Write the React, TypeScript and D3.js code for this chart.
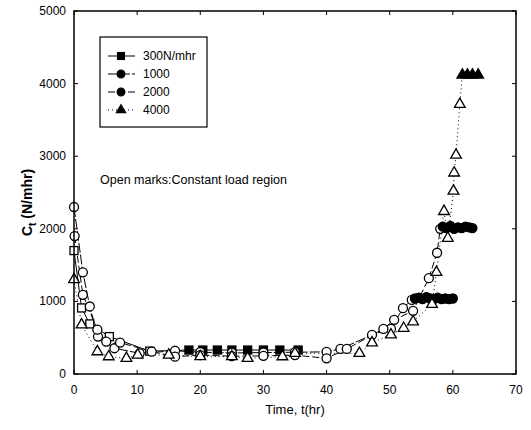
import React from 'react';
import * as d3 from 'd3';

// time (hr), Ct (N/mhr)
const s300Open = [[0, 1700], [1.2, 910], [2.5, 690], [5.6, 515], [12, 315]];
const s300Fill = [[18.2, 330], [20.4, 330], [22.7, 330], [25, 330], [27.5, 330], [30, 330], [32.6, 330], [35.5, 330]];

const s1000Open = [[0, 2300], [1.4, 1400], [2.5, 930], [3.8, 515], [6.4, 355], [10.4, 285], [16, 320], [20, 300], [25, 290], [30, 295], [35, 300], [40, 305], [42.2, 345], [47.2, 540], [50.2, 621], [52.1, 907], [53.5, 1020]];
const s1000Fill = [[54, 1040], [54.6, 1050], [55.2, 1030], [55.8, 1060], [56.4, 1040], [57, 1030], [57.6, 1050], [58.2, 1030], [58.8, 1040], [59.4, 1030], [60, 1040]];

const s2000Open = [[0.1, 1900], [1.4, 1090], [3.7, 610], [5.1, 446], [7.3, 433], [12.3, 308], [16, 239], [20, 260], [25, 245], [30, 250], [35, 260], [40, 216], [43.2, 345], [49, 621], [50.7, 746], [53.7, 870], [56.2, 1320], [57.5, 1670], [58, 2000]];
const s2000Fill = [[58.4, 2030], [59, 2010], [59.6, 2040], [60.2, 2000], [60.8, 2020], [61.4, 2010], [62, 2030], [62.6, 2020], [63.1, 2010]];

const s4000Open = [[0, 1300], [1.2, 677], [3.7, 308], [5.5, 239], [8.3, 216], [10.1, 262], [15, 262], [20, 240], [25, 240], [27.5, 216], [33, 239], [35, 285], [45.2, 285], [47.2, 430], [50.2, 540], [52.2, 631], [53.7, 720], [56.7, 960], [57.4, 1400], [58.6, 2240], [59.2, 1870], [60.1, 2520], [60.2, 2770], [60.5, 3015], [61.1, 3715]];
const s4000Fill = [[61.5, 4120], [62.3, 4120], [63.1, 4120], [64, 4120]];

const xTicks = [0, 10, 20, 30, 40, 50, 60, 70];
const yTicks = [0, 1000, 2000, 3000, 4000, 5000];
const legendLabels = ['300N/mhr', '1000', '2000', '4000'];

const W = 531, H = 430;
const m = { left: 74, right: 15, top: 11, bottom: 56 };

const x = d3.scaleLinear().domain([0, 70]).range([m.left, W - m.right]);
const y = d3.scaleLinear().domain([0, 5000]).range([H - m.bottom, m.top]);

function Marker({ shape, cx, cy, filled, s = 1 }: any) {
  const fill = filled ? '#000' : '#fff';
  if (shape === 'square') {
    const h = 4 * s;
    return <rect x={cx - h} y={cy - h} width={2 * h} height={2 * h} fill={fill} stroke="#000" strokeWidth={1.3} />;
  }
  if (shape === 'tri') {
    const sym = d3.symbol(d3.symbolTriangle, 50 * s * s)();
    return <path d={sym!} transform={`translate(${cx},${cy})`} fill={fill} stroke="#000" strokeWidth={1.3} />;
  }
  return <circle cx={cx} cy={cy} r={4.5 * s} fill={fill} stroke="#000" strokeWidth={1.3} />;
}

export default function App() {
  const line = d3.line<number[]>().x(d => x(d[0])).y(d => y(d[1]));
  const series = [
    { open: s300Open, fill: s300Fill, shape: 'square', dash: undefined },
    { open: s1000Open, fill: s1000Fill, shape: 'circle', dash: '10,2' },
    { open: s2000Open, fill: s2000Fill, shape: 'circle', dash: '7,3' },
    { open: s4000Open, fill: s4000Fill, shape: 'tri', dash: '1,3' },
  ];
  const font = 'Liberation Sans, Arial, sans-serif';
  const x0 = m.left, x1 = W - m.right, y0 = H - m.bottom, y1 = m.top;

  return (
    <svg width={W} height={H} style={{ position: 'absolute', left: 0, top: 0 }} fontFamily={font}>
      <rect width={W} height={H} fill="#fff" />
      {series.map((s, i) => (
        <path key={'l' + i} d={line([...s.open, ...s.fill])!} fill="none" stroke="#000" strokeWidth={1} strokeDasharray={s.dash} />
      ))}
      {series.map((s, i) => (
        <g key={'m' + i}>
          {s.open.map((d, j) => <Marker key={'o' + j} shape={s.shape} cx={x(d[0])} cy={y(d[1])} filled={false} />)}
          {s.fill.map((d, j) => <Marker key={'f' + j} shape={s.shape} cx={x(d[0])} cy={y(d[1])} filled />)}
        </g>
      ))}
      <rect x={x0} y={y1} width={x1 - x0} height={y0 - y1} fill="none" stroke="#000" strokeWidth={1.5} />
      {xTicks.map(t => (
        <g key={'x' + t}>
          <line x1={x(t)} x2={x(t)} y1={y0} y2={y0 - 4} stroke="#000" />
          <line x1={x(t)} x2={x(t)} y1={y1} y2={y1 + 4} stroke="#000" />
          <text x={x(t)} y={y0 + 20} textAnchor="middle" fontSize={12}>{t}</text>
        </g>
      ))}
      {yTicks.map(t => (
        <g key={'y' + t}>
          <line x1={x0} x2={x0 + 4} y1={y(t)} y2={y(t)} stroke="#000" />
          <line x1={x1} x2={x1 - 4} y1={y(t)} y2={y(t)} stroke="#000" />
          <text x={x0 - 8} y={y(t) + 4} textAnchor="end" fontSize={12}>{t}</text>
        </g>
      ))}
      <text x={(x0 + x1) / 2} y={414} textAnchor="middle" fontSize={13}>Time, t(hr)</text>
      <text transform={`translate(32,${(y0 + y1) / 2 + 10}) rotate(-90)`} textAnchor="middle" fontSize={14} fontWeight="bold">
        C<tspan fontSize={10} dy={4}>t</tspan><tspan dy={-4}> (N/mhr)</tspan>
      </text>
      <rect x={100} y={37} width={107} height={90} fill="#fff" stroke="#000" strokeWidth={1.2} />
      {series.map((s, i) => {
        const ly = 56 + i * 18;
        return (
          <g key={'g' + i}>
            <line x1={108} x2={135} y1={ly} y2={ly} stroke="#000" strokeWidth={1} strokeDasharray={s.dash} />
            <Marker shape={s.shape} cx={121} cy={ly} filled s={0.85} />
            <text x={143} y={ly + 4} fontSize={12}>{legendLabels[i]}</text>
          </g>
        );
      })}
      <text x={100} y={184} fontSize={12.5}>Open marks:Constant load region</text>
    </svg>
  );
}
